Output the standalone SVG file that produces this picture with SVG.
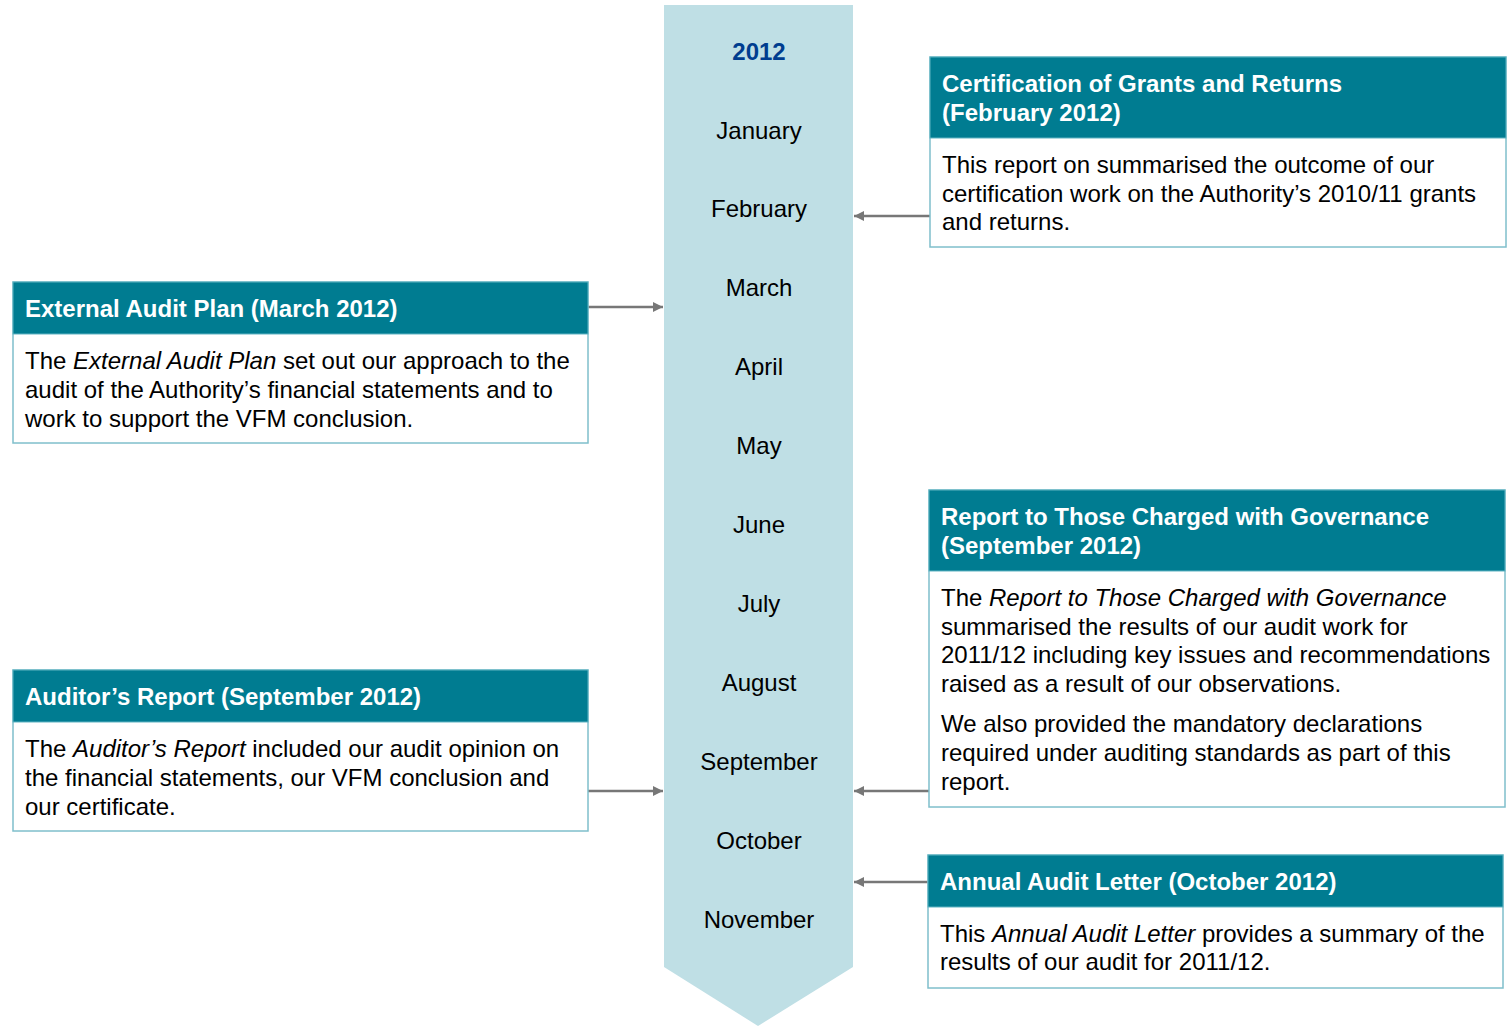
<svg xmlns="http://www.w3.org/2000/svg" width="1509" height="1026" viewBox="0 0 1509 1026">
<defs>
<style>
.hd{fill:#007C91;stroke:#5FB3C2;stroke-width:1}
.bd{fill:#fff;stroke:#7FBFCB;stroke-width:1.5}
.ht{font-family:"Liberation Sans",Arial,sans-serif;font-weight:bold;font-size:24px;fill:#fff}
.bt{font-family:"Liberation Sans",Arial,sans-serif;font-size:24px;fill:#000}
.mo{font-family:"Liberation Sans",Arial,sans-serif;font-size:24px;fill:#000;text-anchor:middle}
.yr{font-family:"Liberation Sans",Arial,sans-serif;font-size:24px;font-weight:bold;fill:#003D8F;text-anchor:middle}
.cn{stroke:#777;stroke-width:2.5;fill:none;marker-end:url(#ah)}
</style>
<marker id="ah" viewBox="0 0 10 10" refX="10" refY="5" markerWidth="4" markerHeight="4" orient="auto" markerUnits="strokeWidth">
<path d="M0,0 L10,5 L0,10 z" fill="#777"/>
</marker>
</defs>
<rect width="1509" height="1026" fill="#fff"/>
<g id="timeline">
<path d="M664,5 H853 V967 L758,1026 L664,967 Z" fill="#BFDFE5"/>
<text class="yr" x="759" y="60">2012</text>
<text class="mo" x="759" y="139">January</text>
<text class="mo" x="759" y="217">February</text>
<text class="mo" x="759" y="296">March</text>
<text class="mo" x="759" y="375">April</text>
<text class="mo" x="759" y="454">May</text>
<text class="mo" x="759" y="533">June</text>
<text class="mo" x="759" y="612">July</text>
<text class="mo" x="759" y="691">August</text>
<text class="mo" x="759" y="770">September</text>
<text class="mo" x="759" y="849">October</text>
<text class="mo" x="759" y="928">November</text>
</g>
<g id="connectors">
<line class="cn" x1="930" y1="216" x2="854" y2="216"/>
<line class="cn" x1="588" y1="307" x2="663" y2="307"/>
<line class="cn" x1="588" y1="791" x2="663" y2="791"/>
<line class="cn" x1="929" y1="791" x2="854" y2="791"/>
<line class="cn" x1="928" y1="882" x2="854" y2="882"/>
</g>
<g id="cert">
<rect class="bd" x="930" y="57" width="576" height="190"/>
<rect class="hd" x="930" y="57" width="576" height="81"/>
<text class="ht" x="942" y="92">Certification of Grants and Returns</text>
<text class="ht" x="942" y="121">(February 2012)</text>
<text class="bt" x="942" y="173">This report on summarised the outcome of our</text>
<text class="bt" x="942" y="202">certification work on the Authority’s 2010/11 grants</text>
<text class="bt" x="942" y="230">and returns.</text>
</g>
<g id="eap">
<rect class="bd" x="13" y="282" width="575" height="161"/>
<rect class="hd" x="13" y="282" width="575" height="52"/>
<text class="ht" x="25" y="317">External Audit Plan (March 2012)</text>
<text class="bt" x="25" y="369">The <tspan font-style="italic">External Audit Plan</tspan> set out our approach to the</text>
<text class="bt" x="25" y="398">audit of the Authority’s financial statements and to</text>
<text class="bt" x="25" y="427">work to support the VFM conclusion.</text>
</g>
<g id="tcwg">
<rect class="bd" x="929" y="490" width="576" height="317"/>
<rect class="hd" x="929" y="490" width="576" height="81"/>
<text class="ht" x="941" y="525">Report to Those Charged with Governance</text>
<text class="ht" x="941" y="554">(September 2012)</text>
<text class="bt" x="941" y="606">The <tspan font-style="italic">Report to Those Charged with Governance</tspan></text>
<text class="bt" x="941" y="635">summarised the results of our audit work for</text>
<text class="bt" x="941" y="663">2011/12 including key issues and recommendations</text>
<text class="bt" x="941" y="692">raised as a result of our observations.</text>
<text class="bt" x="941" y="732">We also provided the mandatory declarations</text>
<text class="bt" x="941" y="761">required under auditing standards as part of this</text>
<text class="bt" x="941" y="790">report.</text>
</g>
<g id="auditor">
<rect class="bd" x="13" y="670" width="575" height="161"/>
<rect class="hd" x="13" y="670" width="575" height="52"/>
<text class="ht" x="25" y="705">Auditor’s Report (September 2012)</text>
<text class="bt" x="25" y="757">The <tspan font-style="italic">Auditor’s Report</tspan> included our audit opinion on</text>
<text class="bt" x="25" y="786">the financial statements, our VFM conclusion and</text>
<text class="bt" x="25" y="815">our certificate.</text>
</g>
<g id="aal">
<rect class="bd" x="928" y="855" width="575" height="133"/>
<rect class="hd" x="928" y="855" width="575" height="52"/>
<text class="ht" x="940" y="890">Annual Audit Letter (October 2012)</text>
<text class="bt" x="940" y="942">This <tspan font-style="italic">Annual Audit Letter</tspan> provides a summary of the</text>
<text class="bt" x="940" y="970">results of our audit for 2011/12.</text>
</g>
</svg>
